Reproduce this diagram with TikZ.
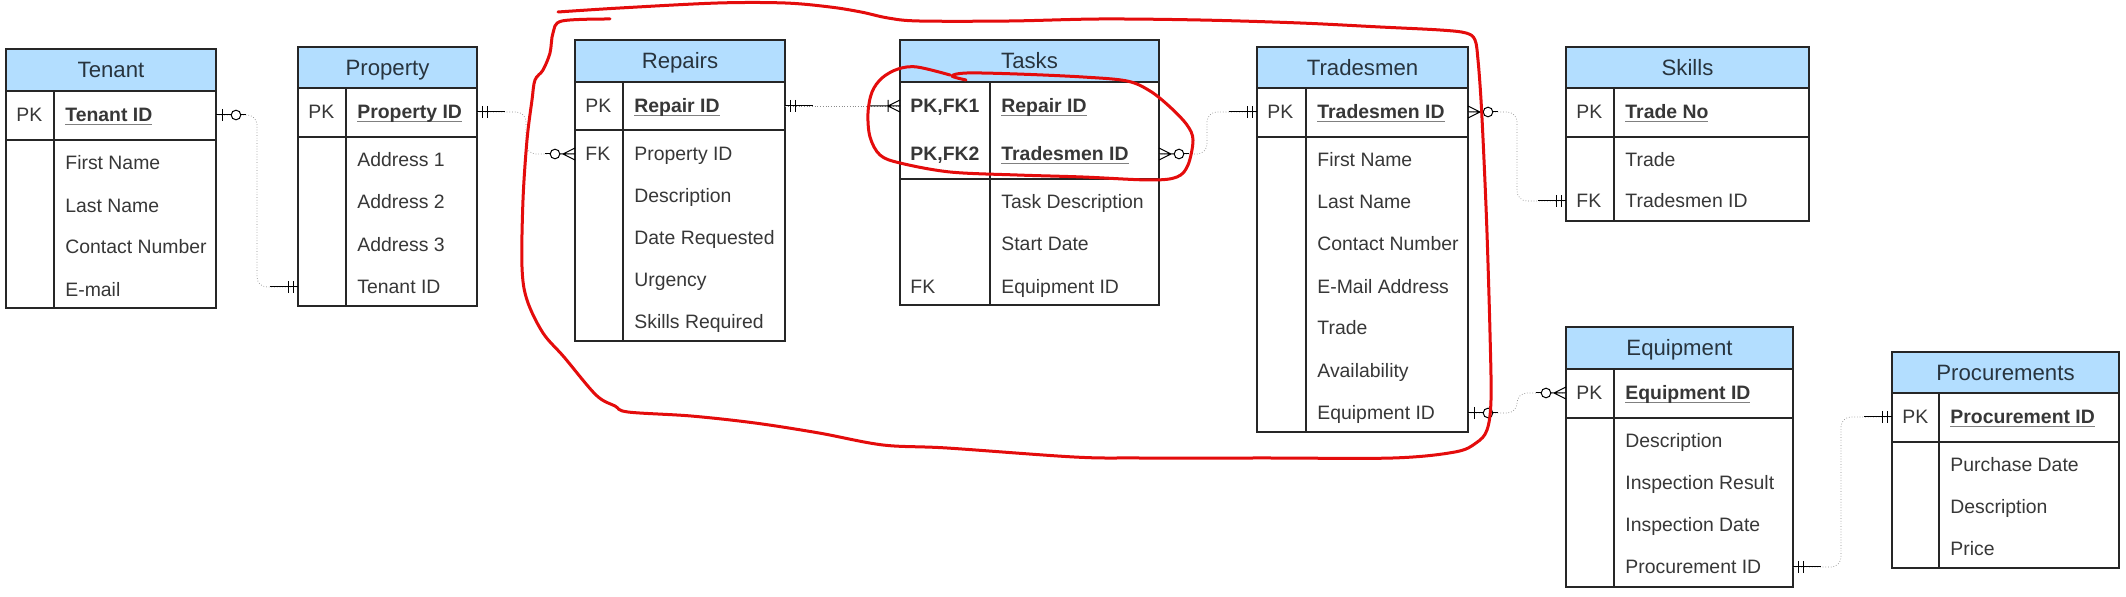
\documentclass[tikz,border=0pt]{standalone}
\usepackage{fontspec}
\setmainfont{Liberation Sans}
\usetikzlibrary{calc}
\definecolor{hdrblue}{RGB}{179,222,255}
\definecolor{txt}{RGB}{55,55,55}
\definecolor{htxt}{RGB}{40,52,62}
\definecolor{redpen}{RGB}{228,12,12}
\newcommand\pkname[1]{\setbox0=\hbox{\bfseries #1}\rlap{\textcolor{gray}{\rule[-1.6pt]{\wd0}{0.7pt}}}\box0}
\tikzset{
  tb/.style={draw=black!85, line width=0.9pt},
  ttl/.style={font=\fontsize{11.1}{13}\selectfont, text=htxt, inner sep=0pt, text height=8pt, text depth=0pt},
  fld/.style={font=\fontsize{9.7}{12}\selectfont, text=txt, anchor=west, inner sep=0pt, text height=7pt, text depth=0pt},
  conn/.style={draw=black!45, line width=0.35pt, densely dotted, rounded corners=5pt},
  mk/.style={draw=black, line width=0.5pt},
  pen/.style={draw=redpen, line width=1.5pt, line cap=round, line join=round},
  pics/mand/.style={code={\draw[mk] (0,0) -- (28,0) (5,-6) -- (5,6) (10,-6) -- (10,6);}},
  pics/zeroone/.style={code={\draw[mk] (0,0) -- (15.2,0) (6,-6) -- (6,6); \draw[mk, fill=white] (20,0) circle[radius=2.4pt]; \draw[mk] (24.8,0) -- (30,0);}},
  pics/zeromany/.style={code={\draw[mk] (0,-6) -- (12,0) -- (0,6) (0,0) -- (15.2,0); \draw[mk, fill=white] (20,0) circle[radius=2.4pt]; \draw[mk] (24.8,0) -- (30,0);}},
  pics/onemany/.style={code={\draw[mk] (0,-6) -- (12,0) -- (0,6) (0,0) -- (30,0) (12,-6) -- (12,6);}},
}
% #1 name #2 L #3 R #4 T #5 H #6 P #7 B #8 D #9 title
\newcommand\ertable[9]{%
  \def\tL{#2}\def\tR{#3}\def\tD{#8}%
  \fill[hdrblue] (#2,#4) rectangle (#3,#5);
  \draw[tb] (#2,#4) rectangle (#3,#7);
  \draw[tb] (#2,#5) -- (#3,#5) (#2,#6) -- (#3,#6) (#8,#5) -- (#8,#7);
  \node[ttl] (#1-title) at ({(#2+#3)/2},{(#4+#5)/2}) {#9};
}
% #1 tbl #2 idx #3 y #4 key #5 field
\newcommand\erow[5]{%
  \if\relax\detokenize{#4}\relax\else\node[fld] (#1-k#2) at (\tL+10,#3) {#4};\fi
  \node[fld] (#1-f#2) at (\tD+11,#3) {#5};
  \coordinate (#1-w#2) at (\tL,#3);
  \coordinate (#1-e#2) at (\tR,#3);
}
\begin{document}
\begin{tikzpicture}[x=0.5pt,y=-0.5pt]
\useasboundingbox (0,0) rectangle (2126,597);
\fill[white] (0,0) rectangle (2126,597);

% Tenant
\ertable{ten}{6}{216}{49}{91}{140}{308}{54}{Tenant}
\erow{ten}{1}{115}{PK}{\pkname{Tenant ID}}
\erow{ten}{2}{163}{}{First Name}
\erow{ten}{3}{206}{}{Last Name}
\erow{ten}{4}{247}{}{Contact Number}
\erow{ten}{5}{290}{}{E-mail}

% Property
\ertable{prop}{298}{477}{47}{88}{137}{306}{346}{Property}
\erow{prop}{1}{112}{PK}{\pkname{Property ID}}
\erow{prop}{2}{160}{}{Address 1}
\erow{prop}{3}{202}{}{Address 2}
\erow{prop}{4}{245}{}{Address 3}
\erow{prop}{5}{287}{}{Tenant ID}

% Repairs
\ertable{rep}{575}{785}{40}{82}{130}{341}{623}{Repairs}
\erow{rep}{1}{106}{PK}{\pkname{Repair ID}}
\erow{rep}{2}{154}{FK}{Property ID}
\erow{rep}{3}{196}{}{Description}
\erow{rep}{4}{238}{}{Date Requested}
\erow{rep}{5}{280}{}{Urgency}
\erow{rep}{6}{322}{}{Skills Required}

% Tasks
\ertable{tas}{900}{1159}{40}{82}{179}{305}{990}{Tasks}
\erow{tas}{1}{106}{\bfseries PK,FK1}{\pkname{Repair ID}}
\erow{tas}{2}{154}{\bfseries PK,FK2}{\pkname{Tradesmen ID}}
\erow{tas}{3}{202}{}{Task Description}
\erow{tas}{4}{244}{}{Start Date}
\erow{tas}{5}{287}{FK}{Equipment ID}

% Tradesmen
\ertable{trd}{1257}{1468}{47}{88}{137}{432}{1306}{Tradesmen}
\erow{trd}{1}{112}{PK}{\pkname{Tradesmen ID}}
\erow{trd}{2}{160}{}{First Name}
\erow{trd}{3}{202}{}{Last Name}
\erow{trd}{4}{244}{}{Contact Number}
\erow{trd}{5}{287}{}{E-Mail Address}
\erow{trd}{6}{328}{}{Trade}
\erow{trd}{7}{371}{}{Availability}
\erow{trd}{8}{413}{}{Equipment ID}

% Skills
\ertable{skl}{1566}{1809}{47}{88}{137}{221}{1614}{Skills}
\erow{skl}{1}{112}{PK}{\pkname{Trade No}}
\erow{skl}{2}{160}{}{Trade}
\erow{skl}{3}{201}{FK}{Tradesmen ID}

% Equipment
\ertable{eqp}{1566}{1793}{327}{369}{418}{587}{1614}{Equipment}
\erow{eqp}{1}{393}{PK}{\pkname{Equipment ID}}
\erow{eqp}{2}{441}{}{Description}
\erow{eqp}{3}{483}{}{Inspection Result}
\erow{eqp}{4}{525}{}{Inspection Date}
\erow{eqp}{5}{567}{}{Procurement ID}

% Procurements
\ertable{prc}{1892}{2119}{352}{393}{442}{568}{1939}{Procurements}
\erow{prc}{1}{417}{PK}{\pkname{Procurement ID}}
\erow{prc}{2}{465}{}{Purchase Date}
\erow{prc}{3}{507}{}{Description}
\erow{prc}{4}{549}{}{Price}

% connectors
\coordinate (v1) at (257,0);
\coordinate (v2) at (526,0);
\coordinate (v4) at (1207,0);
\coordinate (v5) at (1517,0);
\coordinate (v7) at (1841,0);

\draw[conn] (ten-e1) -- (ten-e1 -| v1) -- (prop-w5 -| v1) -- (prop-w5);
\pic at (ten-e1) {zeroone};
\pic[rotate=180] at (prop-w5) {mand};

\draw[conn] (prop-e1) -- (prop-e1 -| v2) -- (rep-w2 -| v2) -- (rep-w2);
\pic at (prop-e1) {mand};
\pic[rotate=180] at (rep-w2) {zeromany};

\draw[conn] (rep-e1) -- (tas-w1);
\pic at (rep-e1) {mand};
\pic[rotate=180] at (tas-w1) {onemany};

\draw[conn] (tas-e2) -- (tas-e2 -| v4) -- (trd-w1 -| v4) -- (trd-w1);
\pic at (tas-e2) {zeromany};
\pic[rotate=180] at (trd-w1) {mand};

\draw[conn] (trd-e1) -- (trd-e1 -| v5) -- (skl-w3 -| v5) -- (skl-w3);
\pic at (trd-e1) {zeromany};
\pic[rotate=180] at (skl-w3) {mand};

\draw[conn] (trd-e8) -- (trd-e8 -| v5) -- (eqp-w1 -| v5) -- (eqp-w1);
\pic at (trd-e8) {zeroone};
\pic[rotate=180] at (eqp-w1) {zeromany};

\draw[conn] (eqp-e5) -- (eqp-e5 -| v7) -- (prc-w1 -| v7) -- (prc-w1);
\pic at (eqp-e5) {mand};
\pic[rotate=180] at (prc-w1) {mand};

% red hand-drawn annotations
\draw[pen] plot[smooth, tension=0.55] coordinates {
 (558,12) (620,8) (718,3) (785,3) (830,7) (861,12) (888,18) (919,21)
 (1010,21) (1100,19) (1200,20) (1300,23) (1380,27) (1440,30) (1466,33)
 (1475,40) (1478,60) (1481,100) (1484,160) (1487,233) (1490,333) (1491,400)
 (1487,430) (1476,443) (1455,452) (1393,458) (1266,458) (1138,458) (1074,457)
 (947,448) (883,445) (819,433) (755,423) (691,416) (628,412) (615,406)
 (596,395) (564,357) (543,333) (527,300) (522,267) (523,200) (527,140)
 (532,100) (535,80) (543,70) (550,53) (553,33) (562,21) (610,19)};
\draw[pen] plot[smooth, tension=0.55] coordinates {
 (950,75) (917,67) (898,69) (882,78) (872,92) (868,113) (870,137) (880,155)
 (900,163) (950,172) (1017,175) (1083,177) (1150,180) (1177,177) (1188,165)
 (1193,140) (1187,125) (1170,107) (1150,91) (1127,81) (1083,77) (1017,74)
 (967,73) (952,76) (966,80)};
\end{tikzpicture}
\end{document}
